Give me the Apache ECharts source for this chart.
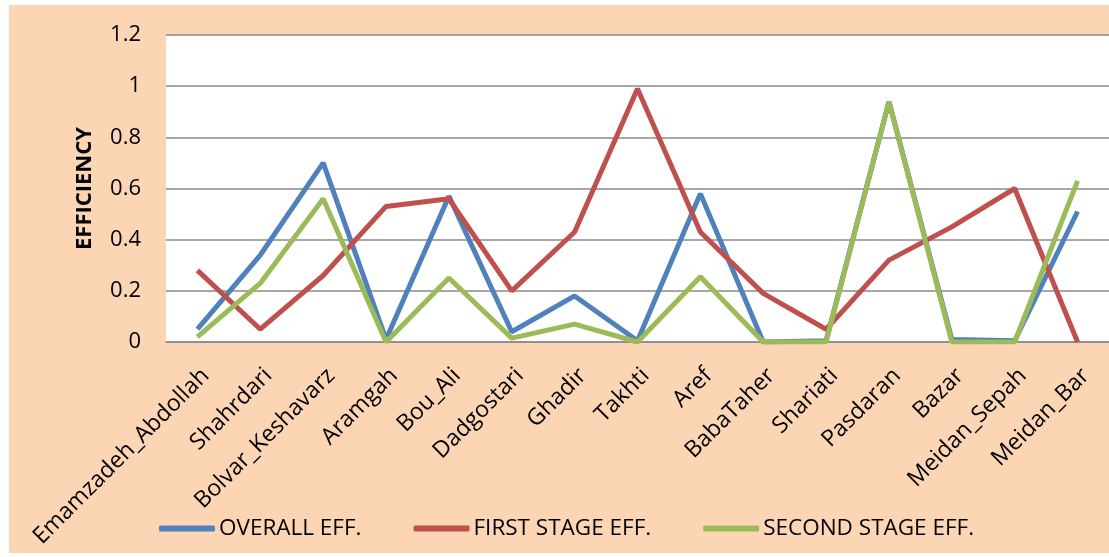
<!DOCTYPE html>
<html>
<head>
<meta charset="utf-8">
<script src="https://cdn.jsdelivr.net/npm/echarts@6/dist/echarts.min.js"></script>
<style>
html,body{margin:0;padding:0;background:#ffffff;}
#c{position:absolute;left:9px;top:5px;width:1100px;height:548px;background:#FCD5B5;}
</style>
</head>
<body>
<div id="c"></div>
<script>
var categories = ["Emamzadeh_Abdollah","Shahrdari","Bolvar_Keshavarz","Aramgah","Bou_Ali","Dadgostari","Ghadir","Takhti","Aref","BabaTaher","Shariati","Pasdaran","Bazar","Meidan_Sepah","Meidan_Bar"];
var overallEff = [0.05,0.34,0.70,0.01,0.57,0.04,0.18,0.005,0.58,0.0,0.005,0.94,0.01,0.005,0.51];
var firstStageEff = [0.28,0.05,0.26,0.53,0.56,0.20,0.43,0.99,0.43,0.19,0.05,0.32,0.45,0.60,0.0];
var secondStageEff = [0.02,0.23,0.56,0.0,0.25,0.015,0.07,0.0,0.255,0.0,0.0,0.94,0.0,0.0,0.63];
var seriesNames = ["OVERALL EFF.","FIRST STAGE EFF.","SECOND STAGE EFF."];
var yTicks = {min:0,max:1.2,interval:0.2};

var FONT = "'Open Sans', 'Noto Sans', sans-serif";
var chart = echarts.init(document.getElementById('c'), null, {renderer:'canvas'});
function mk(name, data, color){
  return {name:name,type:'line',data:data,symbol:'none',smooth:false,
    lineStyle:{color:color,width:5},itemStyle:{color:color},z:3};
}
chart.setOption({
  animation:false,
  backgroundColor:'transparent',
  textStyle:{fontFamily:FONT},
  grid:{left:157,top:30,right:0,bottom:211,show:true,backgroundColor:'#ffffff',borderWidth:0},
  legend:{
    data:seriesNames,left:145,top:507,itemGap:52,itemWidth:56,itemHeight:6,icon:'roundRect',
    textStyle:{fontFamily:FONT,fontSize:22.5,color:'#000000',padding:[0,0,0,-1]}
  },
  xAxis:{
    type:'category',data:categories,boundaryGap:true,
    axisLine:{lineStyle:{color:'#8a8a8a',width:1.5}},
    axisTick:{show:false},
    axisLabel:{rotate:45,interval:0,margin:22,fontFamily:FONT,fontSize:23,color:'#000000',verticalAlign:'top'}
  },
  yAxis:{
    type:'value',min:yTicks.min,max:yTicks.max,interval:yTicks.interval,
    name:'EFFICIENCY',nameLocation:'middle',nameGap:70,
    nameTextStyle:{fontFamily:FONT,fontSize:22,fontWeight:'bold',color:'#000000'},
    axisLine:{show:false},axisTick:{show:false},
    axisLabel:{margin:25,fontFamily:FONT,fontSize:22,color:'#000000'},
    splitLine:{lineStyle:{color:'#8a8a8a',width:1.5}}
  },
  series:[
    mk(seriesNames[0],overallEff,'#4F81BD'),
    mk(seriesNames[1],firstStageEff,'#C0504D'),
    mk(seriesNames[2],secondStageEff,'#9BBB59')
  ]
});
</script>
</body>
</html>
